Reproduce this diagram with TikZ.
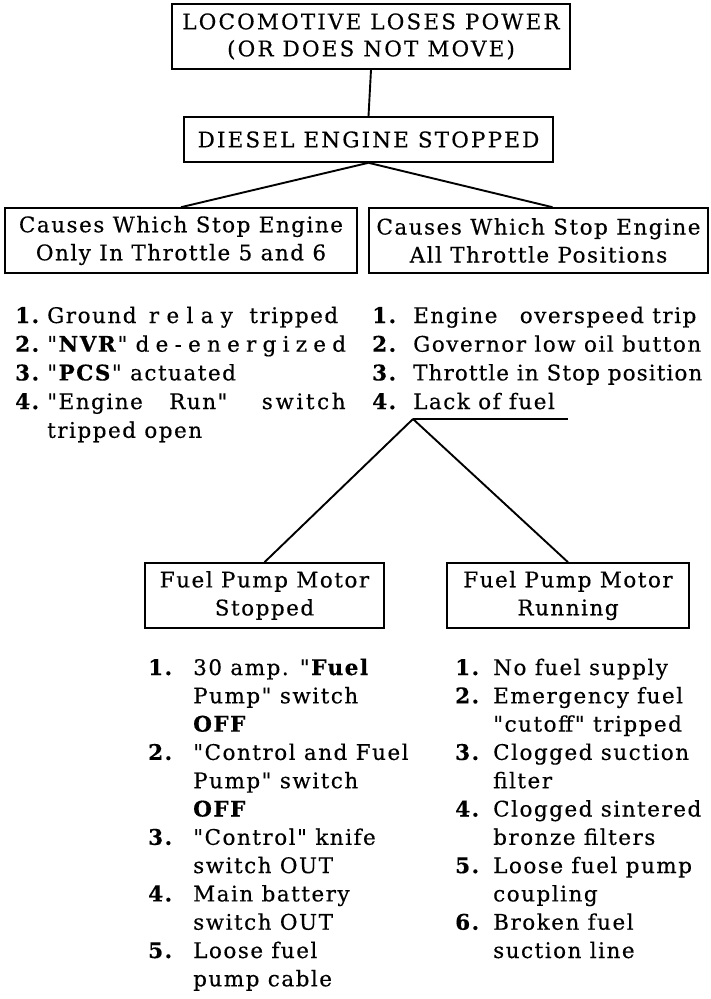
\documentclass[tikz,border=0pt]{standalone}
\usepackage{fontspec}
\setmainfont{DejaVu Serif}[LetterSpace=7, Ligatures=TeXOff, FakeBold=0.4]
\newcommand\wide[2]{{\addfontfeature{LetterSpace=#1}#2}}
\begin{document}
\begin{tikzpicture}[x=1pt,y=-1pt,
    box/.style={draw, line width=1.6pt, align=center, inner sep=0pt,
      font=\fontsize{21.5}{28}\selectfont},
    item/.style={anchor=base west, inner sep=0pt, font=\fontsize{21.5}{28}\selectfont},
    link/.style={line width=1.9pt}]
  \useasboundingbox (0,0) rectangle (711,999);
  % Cuadros superiores
  \node[box, minimum width=398pt, minimum height=65pt,
    font=\fontsize{21.5}{27}\selectfont\addfontfeature{LetterSpace=10}] (power) at (371,36.5)
    {LOCOMOTIVE LOSES POWER\\(OR DOES NOT MOVE)};
  \node[box, minimum width=369pt, minimum height=45pt,
    font=\fontsize{21.5}{27}\selectfont\addfontfeature{LetterSpace=10}] (engine) at (368.5,139.5)
    {DIESEL ENGINE STOPPED};
  \node[box, minimum width=352pt, minimum height=65pt] (onlyfive) at (181,240.5)
    {Causes Which Stop Engine\\Only In Throttle 5 and 6};
  \node[box, minimum width=339pt, minimum height=65pt] (allpos) at (538.5,240.5)
    {Causes Which Stop Engine\\All Throttle Positions};
  % Conexiones superiores
  \draw[link] (power.south) -- (engine.north);
  \draw[link] (engine.south) -- (onlyfive.north);
  \draw[link] (engine.south) -- ([xshift=14pt]allpos.north);
  % Lista izquierda
  \foreach \r/\n/\t in {1/1./Ground\hspace{4pt} \wide{34}{relay}\hspace{8pt} tripped,
      2/2./"\textbf{NVR}" \wide{29}{de-energized},
      3/3./"\textbf{PCS}" actuated,
      4/4./"Engine\hspace{18pt} Run"\hspace{26pt} \wide{12}{switch},
      5/{}/tripped open}{
    \node[item] (lnum\r) at (15,{323+(\r-1)*28.7}) {\textbf{\n}};
    \node[item] (ltxt\r) at (47,{323+(\r-1)*28.7}) {\t};
  }
  % Lista derecha
  \foreach \r/\n/\t in {1/1./Engine\hspace{14pt} overspeed trip, 2/2./Governor low oil button,
      3/3./\wide{5}{Throttle in Stop position}, 4/4./Lack of fuel}{
    \node[item] (rnum\r) at (372,{323+(\r-1)*28.7}) {\textbf{\n}};
    \node[item] (rtxt\r) at (413,{323+(\r-1)*28.7}) {\t};
  }
  % Subrayado y bifurcacion
  \coordinate (fork) at (413,419);
  \coordinate (forkend) at (568,419);
  \draw[link] (fork) -- (forkend);
  % Cuadros de la bomba
  \node[box, minimum width=239pt, minimum height=65pt] (pumpoff) at (264.5,595.5)
    {Fuel Pump Motor\\Stopped};
  \node[box, minimum width=242pt, minimum height=65pt] (pumpon) at (568,595.5)
    {Fuel Pump Motor\\Running};
  \draw[link] (fork) -- (pumpoff.north);
  \draw[link] (fork) -- (pumpon.north);
  % Lista bomba parada
  \foreach \r/\n/\t in {1/1./30 amp. "\textbf{Fuel}, 2/{}/Pump" switch, 3/{}/\textbf{OFF},
      4/2./"Control and Fuel, 5/{}/Pump" switch, 6/{}/\textbf{OFF},
      7/3./"Control" knife, 8/{}/switch OUT, 9/4./Main battery,
      10/{}/switch OUT, 11/5./Loose fuel, 12/{}/pump cable}{
    \node[item] (snum\r) at (148,{675+(\r-1)*28.3}) {\textbf{\n}};
    \node[item] (stxt\r) at (193,{675+(\r-1)*28.3}) {\t};
  }
  % Lista bomba en marcha
  \foreach \r/\n/\t in {1/1./No fuel supply, 2/2./Emergency fuel, 3/{}/"cutoff" tripped,
      4/3./Clogged suction, 5/{}/filter, 6/4./Clogged sintered,
      7/{}/bronze filters, 8/5./Loose fuel pump, 9/{}/coupling,
      10/6./Broken fuel, 11/{}/suction line}{
    \node[item] (gnum\r) at (455,{675+(\r-1)*28.3}) {\textbf{\n}};
    \node[item] (gtxt\r) at (493,{675+(\r-1)*28.3}) {\t};
  }
\end{tikzpicture}
\end{document}
